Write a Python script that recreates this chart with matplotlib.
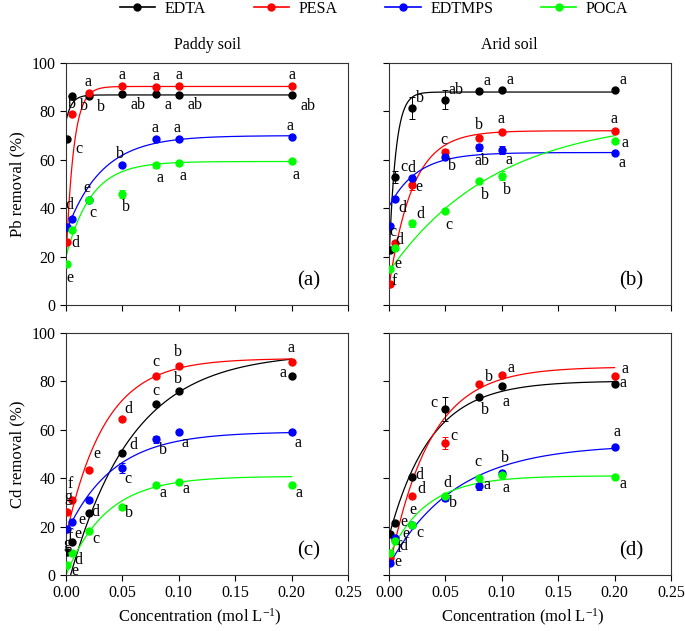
import numpy as np
import matplotlib
matplotlib.use("Agg")
import matplotlib.pyplot as plt
from matplotlib.lines import Line2D


# concentrations (mol/L) used in every panel
CONC = [0.001, 0.005, 0.02, 0.05, 0.08, 0.1, 0.2]
AGENTS = ["EDTA", "PESA", "EDTMPS", "POCA"]
COLORS = ["black", "#ff0000", "#0000ff", "#00ff00"]
X_TICKS = [0.00, 0.05, 0.10, 0.15, 0.20, 0.25]
Y_TICKS = [0, 20, 40, 60, 80, 100]

# removal (%), one row per agent (EDTA, PESA, EDTMPS, POCA)
PB_PADDY = [
    [68.6, 86.3, 86.5, 87.0, 87.0, 86.6, 86.9],
    [26.0, 79.1, 87.6, 90.3, 90.1, 90.3, 90.5],
    [32.4, 35.6, 43.5, 57.9, 68.4, 68.6, 69.4],
    [16.9, 30.9, 43.4, 45.9, 57.8, 58.6, 59.5],
]
PB_ARID = [
    [22.7, 52.8, 81.4, 84.8, 88.3, 89.0, 89.0],
    [8.7, 25.5, 49.6, 63.4, 69.0, 71.3, 71.7],
    [32.8, 43.7, 52.4, 61.1, 65.2, 64.1, 63.0],
    [14.9, 23.4, 33.8, 39.0, 51.4, 53.5, 67.6],
]
CD_PADDY = [
    [9.5, 13.8, 25.8, 50.3, 70.6, 75.9, 82.1],
    [26.0, 31.0, 43.4, 64.4, 82.1, 86.2, 87.9],
    [19.1, 22.1, 30.8, 44.1, 56.1, 59.0, 59.0],
    [4.3, 9.2, 18.3, 28.0, 37.2, 38.3, 37.2],
]
CD_ARID = [
    [17.0, 21.4, 40.7, 68.6, 73.5, 77.9, 79.0],
    [7.0, 14.5, 32.7, 54.5, 78.9, 82.8, 82.3],
    [5.0, 15.2, 20.7, 31.7, 36.6, 42.1, 52.8],
    [9.0, 14.2, 20.7, 32.7, 40.0, 41.4, 40.7],
]

# error bars (SD)
PB_PADDY_ERR = [
    [0.5, 0.5, 0.8, 0.8, 0.8, 0.8, 0.5],
    [0.5, 0.8, 1.0, 0.8, 0.8, 0.5, 0.5],
    [0.5, 0.5, 0.8, 0.8, 0.8, 0.5, 0.5],
    [0.5, 0.5, 1.0, 1.5, 1.0, 0.8, 0.5],
]
PB_ARID_ERR = [
    [0.5, 2.5, 4.5, 4.0, 0.8, 0.8, 0.5],
    [0.5, 0.8, 2.0, 1.0, 0.8, 0.8, 0.5],
    [0.5, 0.5, 0.8, 0.8, 1.5, 1.5, 0.5],
    [0.5, 0.5, 1.5, 0.8, 0.8, 2.0, 0.8],
]
CD_PADDY_ERR = [
    [0.5, 0.5, 0.8, 0.8, 0.8, 0.8, 0.5],
    [0.5, 0.8, 1.0, 0.8, 0.8, 0.5, 0.5],
    [0.5, 0.5, 0.8, 2.0, 1.5, 0.5, 0.5],
    [0.5, 0.5, 0.8, 1.0, 0.8, 0.8, 0.5],
]
CD_ARID_ERR = [
    [0.5, 0.5, 0.8, 5.0, 0.8, 0.8, 0.5],
    [0.5, 0.8, 0.8, 2.5, 0.8, 0.5, 0.5],
    [0.5, 0.5, 0.8, 1.0, 1.5, 0.8, 0.5],
    [0.5, 0.5, 0.8, 0.8, 0.8, 0.8, 0.5],
]

# fitted curves as drawn in the figure: (start value, plateau, rate)
PB_PADDY_FIT = [(76.0, 86.8, 200), (18.0, 90.3, 150), (30.0, 70.0, 32), (20.0, 59.3, 45)]
PB_ARID_FIT = [(18.0, 88.0, 170), (7.6, 72.0, 48), (40.7, 63.0, 40), (13.8, 77.8, 10.5)]
CD_PADDY_FIT = [(-7.0, 91.9, 18), (15.9, 89.5, 29), (17.0, 59.2, 24), (0.0, 40.8, 28)]
CD_ARID_FIT = [(16.0, 80.2, 27), (2.0, 86.0, 28), (4.0, 54.0, 17), (8.0, 41.0, 30)]

# significance letters (None = not shown)
PB_PADDY_LET = [
    ["c", "b", "b", "ab", "a", "ab", "ab"],
    [None, "b", "a", "a", "a", "a", "a"],
    [None, "d", "e", "b", "a", "a", "a"],
    ["e", "d", "c", "b", "a", "a", "a"],
]
PB_ARID_LET = [
    [None, "c", "b", "ab", "a", "a", "a"],
    ["f", "d", "e", "c", "b", "a", "a"],
    ["c", "d", "d", "b", "ab", "a", "a"],
    ["e", None, "d", "c", "b", "b", "a"],
]
CD_PADDY_LET = [
    ["g", "e", "d", "d", "c", "b", "a"],
    ["g", "f", "e", "d", "c", "b", "a"],
    ["f", "e", None, "c", "b", "a", "a"],
    ["e", "d", "c", "b", "a", "a", "a"],
]
CD_ARID_LET = [
    [None, "e", "d", "c", "b", "a", "a"],
    ["f", "d", "d", "c", "b", "a", "a"],
    ["e", "e", "c", "b", "a", "b", "a"],
    [None, None, "e", "d", "c", "a", "a"],
]

# letter offsets from the marker, in pixels (x right, y down)
PB_PADDY_OFF = [
    [(12, 10), (12, 10), (12, 11), (16, 11), (12, 11), (16, 10), (16, 11)],
    [(0, 0), (0, -10), (-1, -11), (0, -11), (0, -11), (0, -11), (0, -11)],
    [(0, 0), (-2, -14), (-2, -12), (-2, -11), (-1, -11), (-2, -11), (-2, -11)],
    [(3, 14), (4, 13), (4, 13), (4, 13), (4, 13), (4, 13), (4, 14)],
]
PB_ARID_OFF = [
    [(0, 0), (9, -10), (8, -10), (11, -10), (8, -10), (8, -10), (8, -10)],
    [(4, -3), (5, -3), (7, 2), (-1, -12), (0, -13), (-1, -13), (-1, -12)],
    [(3, 6), (8, 9), (0, -10), (7, 9), (3, 14), (7, 10), (7, 10)],
    [(8, -5), (0, 0), (9, -9), (4, 14), (6, 14), (5, 14), (10, 2)],
]
CD_PADDY_OFF = [
    [(0, -8), (6, -8), (7, -1), (11, -8), (0, -13), (-1, -12), (-9, -3)],
    [(1, -15), (-1, -16), (8, -16), (6, -10), (0, -14), (-1, -14), (-1, -14)],
    [(3, 7), (10, -2), (0, 0), (6, 11), (7, 11), (6, 11), (6, 11)],
    [(8, 6), (7, 7), (7, 8), (7, 6), (7, 8), (7, 7), (7, 8)],
]
CD_ARID_OFF = [
    [(0, 0), (9, -1), (8, -2), (-11, -6), (6, 13), (4, 16), (8, -1)],
    [(9, -10), (9, 6), (10, -7), (9, -7), (10, -7), (9, -7), (10, -7)],
    [(8, -1), (11, -4), (8, 8), (8, 5), (8, -1), (3, -15), (2, -15)],
    [(0, 0), (0, 0), (1, -15), (2, -13), (-1, -16), (4, 13), (8, 7)],
]

plt.rcParams["font.family"] = ["Liberation Serif", "DejaVu Serif"]
plt.rcParams["mathtext.fontset"] = "custom"
plt.rcParams["mathtext.rm"] = "Liberation Serif"
plt.rcParams["mathtext.it"] = "Liberation Serif"
plt.rcParams["mathtext.default"] = "regular"

PX = 72.0 / 100.0  # pixels -> points


def draw_panel(ax, values, errs, fits, letters, offsets, tag, xlabels, ylabels):
    xs = np.linspace(0, 0.2, 400)
    for i in range(len(AGENTS)):
        col = COLORS[i]
        y0, plateau, k = fits[i]
        ax.plot(xs, y0 + (plateau - y0) * (1 - np.exp(-k * xs)),
                color=col, lw=0.9, zorder=2)
        ax.errorbar(CONC, values[i], yerr=errs[i], fmt="o", color=col,
                    ms=5, elinewidth=0.7, capsize=2.5, capthick=0.7, zorder=3)
        for j, let in enumerate(letters[i]):
            if let is None:
                continue
            dx, dy = offsets[i][j]
            ax.annotate(let, (CONC[j], values[i][j]),
                        xytext=(dx * PX, -dy * PX), textcoords="offset points",
                        ha="center", va="center", fontsize=11.5, zorder=4)

    ax.set_xlim(0, 0.25)
    ax.set_ylim(0, 100)
    ax.set_xticks(X_TICKS)
    ax.set_yticks(Y_TICKS)
    ax.tick_params(direction="out", length=4, width=0.8, labelsize=11.5)
    if xlabels:
        ax.set_xticklabels([f"{t:.2f}" for t in X_TICKS])
    else:
        ax.set_xticklabels([])
    if not ylabels:
        ax.set_yticklabels([])
    for sp in ax.spines.values():
        sp.set_linewidth(0.8)
        sp.set_color("#333333")
    ax.text(0.86, 0.1, tag, transform=ax.transAxes, fontsize=15,
            ha="center", va="center")


fig = plt.figure(figsize=(6.85, 6.31), dpi=100)
W, H = 685.0, 631.0


def axes_px(left, top, right, bottom):
    return fig.add_axes([left / W, 1 - bottom / H, (right - left) / W, (bottom - top) / H])


ax_a = axes_px(66, 63, 348, 305)
ax_b = axes_px(389, 63, 671, 305)
ax_c = axes_px(66, 333, 348, 575)
ax_d = axes_px(389, 333, 671, 575)

draw_panel(ax_a, PB_PADDY, PB_PADDY_ERR, PB_PADDY_FIT, PB_PADDY_LET, PB_PADDY_OFF, "(a)", False, True)
draw_panel(ax_b, PB_ARID, PB_ARID_ERR, PB_ARID_FIT, PB_ARID_LET, PB_ARID_OFF, "(b)", False, False)
draw_panel(ax_c, CD_PADDY, CD_PADDY_ERR, CD_PADDY_FIT, CD_PADDY_LET, CD_PADDY_OFF, "(c)", True, True)
draw_panel(ax_d, CD_ARID, CD_ARID_ERR, CD_ARID_FIT, CD_ARID_LET, CD_ARID_OFF, "(d)", True, False)

fig.text(207 / W, 1 - 45 / H, "Paddy soil", ha="center", va="center", fontsize=11.5)
fig.text(509 / W, 1 - 45 / H, "Arid soil", ha="center", va="center", fontsize=11.5)
fig.text(17 / W, 1 - 184 / H, "Pb removal (%)", ha="center", va="center",
         rotation=90, fontsize=12)
fig.text(17 / W, 1 - 454 / H, "Cd removal (%)", ha="center", va="center",
         rotation=90, fontsize=12)
fig.text(200 / W, 1 - 617 / H, "Concentration (mol L$^{-1}$)", ha="center",
         va="center", fontsize=12)
fig.text(523 / W, 1 - 617 / H, "Concentration (mol L$^{-1}$)", ha="center",
         va="center", fontsize=12)

handles = [Line2D([], [], color=c, marker="o", ms=5, lw=1.2) for c in COLORS]
fig.legend(handles, AGENTS, loc="center", bbox_to_anchor=(374 / W, 1 - 9 / H),
           ncol=4, frameon=False, fontsize=11.5, handlelength=2.2,
           columnspacing=3.0, handletextpad=0.6, borderpad=0)

fig.savefig("out.png", dpi=100)
